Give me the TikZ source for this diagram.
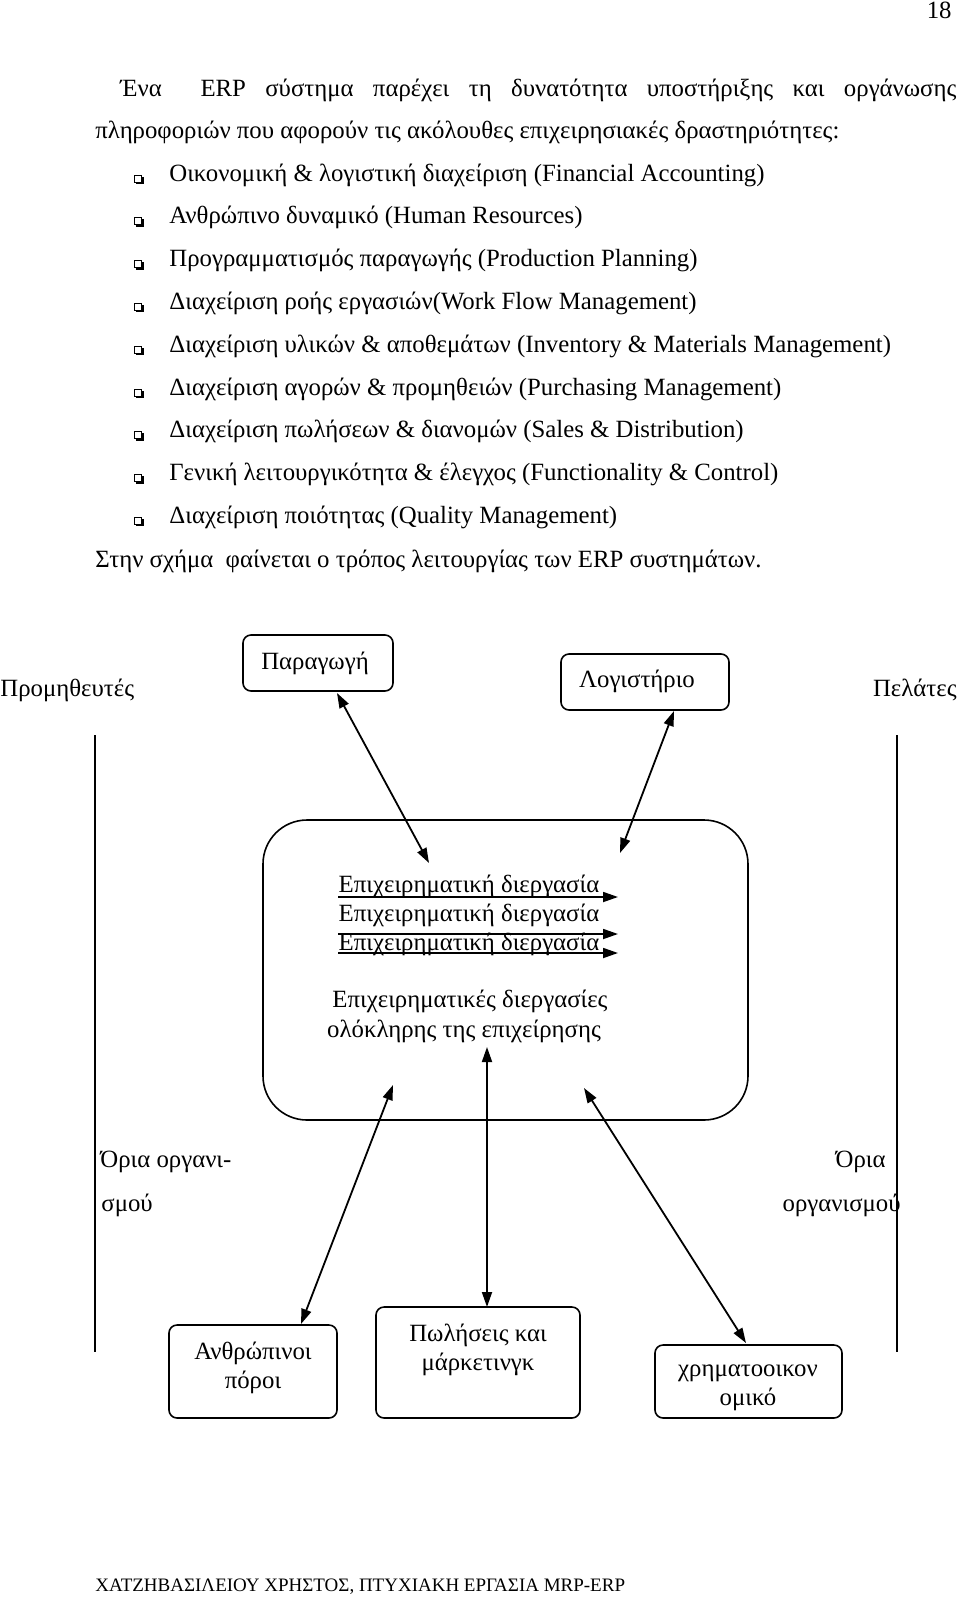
\documentclass[tikz,border=0pt]{standalone}
\usepackage{fontspec}
\setmainfont{Liberation Serif}
\usetikzlibrary{arrows.meta,fit}
\begin{document}
\begin{tikzpicture}[x=0.5pt,y=-0.5pt,
  txt/.style={inner sep=0pt, font=\fontsize{12.4}{14}\selectfont},
  foot/.style={inner sep=0pt, font=\fontsize{9.5}{10}\selectfont},
  box/.style={draw, line width=0.8pt, rounded corners=4pt, inner sep=0pt},
  bigbox/.style={draw, line width=0.8pt, rounded corners=22pt, inner sep=0pt},
  arr/.style={line width=0.9pt, -{Triangle[length=7.5pt,width=5pt]}},
  dbl/.style={line width=0.9pt, {Triangle[length=7.5pt,width=5pt]}-{Triangle[length=7.5pt,width=5pt]}},
  vline/.style={line width=0.6pt}]
\useasboundingbox (0,0) rectangle (960,1597);
% page number
\node[txt, anchor=base east] (pg) at (952,18) {18};
% paragraph
\node[txt, anchor=base west] (p1) at (120,96) {\makebox[418pt][s]{Ένα\ \ ERP σύστημα παρέχει τη δυνατότητα υποστήριξης και οργάνωσης}};
\node[txt, anchor=base west] (p2) at (95,138) {πληροφοριών που αφορούν τις ακόλουθες επιχειρησιακές δραστηριότητες:};
% bullets
\foreach \t [count=\i from 0] in {%
  Οικονομική \& λογιστική διαχείριση (Financial Accounting),
  Ανθρώπινο δυναμικό (Human Resources),
  Προγραμματισμός παραγωγής (Production Planning),
  Διαχείριση ροής εργασιών(Work Flow Management),
  Διαχείριση υλικών \& αποθεμάτων (Inventory \& Materials Management),
  Διαχείριση αγορών \& προμηθειών (Purchasing Management),
  Διαχείριση πωλήσεων \& διανομών (Sales \& Distribution),
  Γενική λειτουργικότητα \& έλεγχος (Functionality \& Control),
  Διαχείριση ποιότητας (Quality Management)}{
  \pgfmathsetmacro\yy{181+42.8*\i}
  \draw[line width=0.5pt] (134,\yy-6) rectangle (141,\yy+1);
  \draw[line width=1pt] (135.5,\yy+2) -- (142.5,\yy+2) -- (142.5,\yy-4.5);
  \node[txt, anchor=base west] (b\i) at (169,\yy) {\t};
}
\node[txt, anchor=base west] (p3) at (95,567) {Στην σχήμα \ φαίνεται ο τρόπος λειτουργίας των ERP συστημάτων.};
% diagram top
\node[txt, anchor=base west] (sup) at (0,696) {Προμηθευτές};
\node[txt, anchor=base east] (cus) at (957,696) {Πελάτες};
\node[box, fit={(243,635)(393,691)}] (prod) {};
\node[txt, anchor=base] (prodt) at (315,669) {Παραγωγή};
\node[box, fit={(561,654)(729,710)}] (acc) {};
\node[txt, anchor=base] (acct) at (637,687) {Λογιστήριο};
% boundary lines
\coordinate (lt) at (95,735);
\coordinate (lb) at (95,1352);
\coordinate (rt) at (897,735);
\coordinate (rb) at (897,1352);
\draw[vline] (lt) -- (lb);
\draw[vline] (rt) -- (rb);
% central box
\node[bigbox, fit={(263,820)(748,1120)}] (erp) {};
\node[txt, anchor=base] (bp1) at (469,892) {Επιχειρηματική διεργασία};
\node[txt, anchor=base] (bp2) at (469,921) {Επιχειρηματική διεργασία};
\node[txt, anchor=base] (bp3) at (469,950) {Επιχειρηματική διεργασία};
\coordinate (a1s) at (338,897); \coordinate (a1e) at (618,897);
\coordinate (a2s) at (338,934); \coordinate (a2e) at (618,934);
\coordinate (a3s) at (338,953); \coordinate (a3e) at (618,953);
\draw[arr] (a1s) -- (a1e);
\draw[arr] (a2s) -- (a2e);
\draw[arr] (a3s) -- (a3e);
\node[txt, anchor=base] (whole1) at (470,1007) {Επιχειρηματικές διεργασίες};
\node[txt, anchor=base] (whole2) at (464,1037) {ολόκληρης της επιχείρησης};
% arrows top
\coordinate (pa) at (337,693); \coordinate (pb) at (429,863);
\coordinate (la) at (674,711); \coordinate (lb2) at (620,853);
\draw[dbl] (pa) -- (pb);
\draw[dbl] (la) -- (lb2);
% bottom boxes
\node[box, fit={(169,1325)(337,1418)}] (hr) {};
\node[txt, anchor=base] (hrt1) at (253,1359) {Ανθρώπινοι};
\node[txt, anchor=base] (hrt2) at (253,1388) {πόροι};
\node[box, fit={(376,1307)(580,1418)}] (sm) {};
\node[txt, anchor=base] (smt1) at (478,1341) {Πωλήσεις και};
\node[txt, anchor=base] (smt2) at (478,1370) {μάρκετινγκ};
\node[box, fit={(655,1345)(842,1418)}] (fin) {};
\node[txt, anchor=base] (fint1) at (748,1376) {χρηματοοικον};
\node[txt, anchor=base] (fint2) at (748,1405) {ομικό};
% arrows bottom
\coordinate (ha) at (393,1085); \coordinate (hb) at (301,1324);
\coordinate (ma) at (487,1047); \coordinate (mb) at (487,1307);
\coordinate (fa) at (584,1088); \coordinate (fb) at (746,1343);
\draw[dbl] (ha) -- (hb);
\draw[dbl] (ma) -- (mb);
\draw[dbl] (fa) -- (fb);
% boundaries labels
\node[txt, anchor=base west] (ol1) at (100,1167) {Όρια οργανι-};
\node[txt, anchor=base west] (ol2) at (101,1211) {σμού};
\node[txt, anchor=base east] (or1) at (886,1167) {Όρια};
\node[txt, anchor=base east] (or2) at (901,1211) {οργανισμού};
% footer
\node[foot, anchor=base west] (ft) at (95,1591) {ΧΑΤΖΗΒΑΣΙΛΕΙΟΥ ΧΡΗΣΤΟΣ, ΠΤΥΧΙΑΚΗ ΕΡΓΑΣΙΑ MRP-ERP};
\end{tikzpicture}
\end{document}
